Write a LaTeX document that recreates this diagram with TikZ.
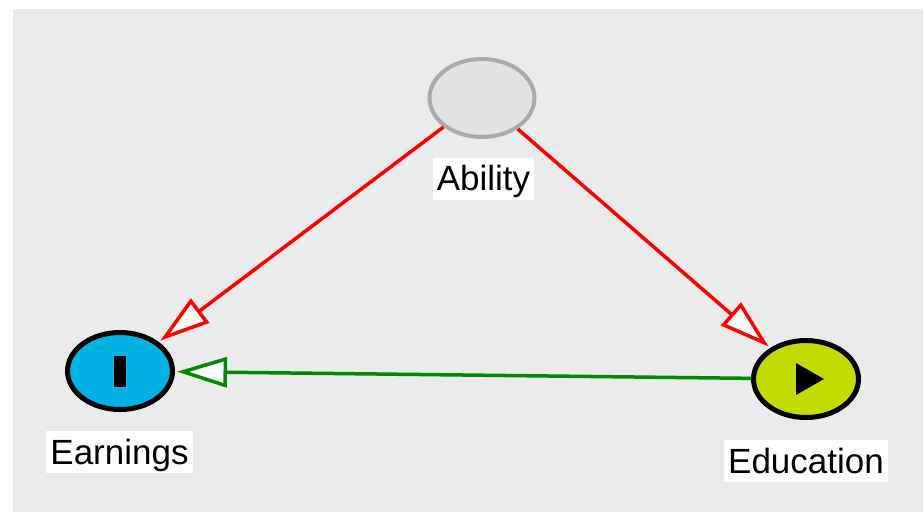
\documentclass[tikz,border=0pt]{standalone}
\usepackage{fontspec}
\setmainfont{Liberation Sans}
\usetikzlibrary{arrows.meta,shapes.geometric}

\definecolor{panelgray}{HTML}{EBEBEB}
\definecolor{latentfill}{HTML}{E2E2E2}
\definecolor{latentline}{HTML}{AAAAAA}
\definecolor{outcomefill}{HTML}{00B3E3}
\definecolor{exposurefill}{HTML}{C3DC00}
\definecolor{causalgreen}{HTML}{008A00}

\begin{document}
\begin{tikzpicture}[x=1pt,y=-1pt,
    var/.style={ellipse, minimum width=105pt, minimum height=77pt, line width=5pt, draw=black},
    latent/.style={var, line width=4pt, draw=latentline, fill=latentfill, minimum width=105pt, minimum height=78pt},
    varname/.style={fill=white, font=\fontsize{35}{40}\selectfont, inner xsep=4pt, inner ysep=3pt,
        text height=30pt, text depth=6pt},
    edge/.style={line width=3.5pt, shorten >=2pt,
        -{Triangle[length=50pt, width=30pt, fill=white, line width=3.5pt]}}]
    \useasboundingbox (0,0) rectangle (923,512);
    \fill[panelgray] (13,9) rectangle (923,512);
    % variables
    \node[latent] (ability) at (482,98) {};
    \node[var, fill=outcomefill] (earnings) at (120,371) {};
    \node[var, fill=exposurefill] (education) at (806,379) {};
    % names under the ellipses
    \node[varname] (abilitylab) at (483.5,178.5) {Ability};
    \node[varname] (earningslab) at (119.5,452) {Earnings};
    \node[varname] (educationlab) at (806,461) {Education};
    % outcome and exposure marks
    \fill ([xshift=-6pt,yshift=-15.5pt]earnings.center) rectangle ([xshift=6pt,yshift=15.5pt]earnings.center);
    \fill ([xshift=-10pt,yshift=16pt]education.center) -- ([xshift=18pt]education.center)
        -- ([xshift=-10pt,yshift=-16pt]education.center) -- cycle;
    % paths
    \draw[edge, red] (ability) -- (earnings);
    \draw[edge, red] (ability) -- (education);
    \draw[edge, causalgreen] (education) -- (earnings);
\end{tikzpicture}
\end{document}
